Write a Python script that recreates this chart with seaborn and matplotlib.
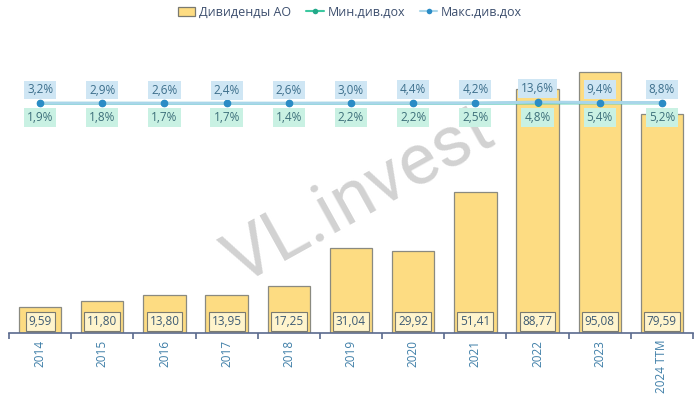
import matplotlib
matplotlib.use("Agg")
import matplotlib.pyplot as plt
import numpy as np
import pandas as pd
import seaborn as sns
from matplotlib.lines import Line2D
from matplotlib.patches import Patch

sns.set_theme(style="white")
plt.rcParams['font.family'] = ['Open Sans', 'DejaVu Sans']

years = ['2014', '2015', '2016', '2017', '2018', '2019', '2020',
         '2021', '2022', '2023', '2024 TTM']
dividends = [9.59, 11.80, 13.80, 13.95, 17.25, 31.04, 29.92,
             51.41, 88.77, 95.08, 79.59]
min_yield = [1.9, 1.8, 1.7, 1.7, 1.4, 2.2, 2.2, 2.5, 4.8, 5.4, 5.2]
max_yield = [3.2, 2.9, 2.6, 2.4, 2.6, 3.0, 4.4, 4.2, 13.6, 9.4, 8.8]

bar_col = '#fddc82'
max_col = '#a9d6ea'
max_dot = '#2b8cc6'
min_col = '#3cc8a0'
txt_col = '#3d5a73'

df = pd.DataFrame({'year': years, 'div': dividends})
pos = np.arange(len(years))


def fmt(v, nd):
    return f"{v:.{nd}f}".replace('.', ',')


fig = plt.figure(figsize=(7, 3.94), dpi=100)
ax = fig.add_axes([9 / 700, 61 / 394, 684 / 700, 293 / 394])

sns.barplot(data=df, x='year', y='div', color=bar_col, saturation=1,
            width=0.68, edgecolor='#8a8a80', linewidth=0.9, ax=ax)
ax.set_ylim(0, 106.7)
ax.set_xlim(-0.5, len(years) - 0.5)
ax.set_xlabel('')
ax.set_ylabel('')
ax.set_yticks([])
for s in ['top', 'right', 'left']:
    ax.spines[s].set_visible(False)
ax.spines['bottom'].set_color('#5a6a8e')
ax.spines['bottom'].set_linewidth(1.2)
ax.set_xticks(pos)
ax.set_xticklabels(years, rotation=90, color='#3f7fa8', fontsize=8.5)
ax.set_xticks(np.r_[pos - 0.5, pos[-1] + 0.5], minor=True)
ax.tick_params(axis='x', which='major', length=0, pad=5)
ax.tick_params(axis='x', which='minor', bottom=True, length=4,
               width=1.2, color='#5a6a8e')

# watermark, under the bars
ax.text(0.515, 0.5, 'VL.invest', transform=fig.transFigure, rotation=29,
        fontsize=52, fontweight='normal', color='#d2d2d2', ha='center',
        va='center', family=['Roboto', 'DejaVu Sans'], zorder=0.5)

for x, v in zip(pos, dividends):
    ax.text(x, 4.2, fmt(v, 2), ha='center', va='center', fontsize=8.5,
            color=txt_col,
            bbox=dict(boxstyle='square,pad=0.25', fc='#fff4cc',
                      ec='#7a7a70', lw=0.8))

ax2 = ax.twinx()
sns.lineplot(x=pos, y=min_yield, ax=ax2, color=min_col, linewidth=2,
             marker='o', markersize=5, markeredgewidth=0,
             markerfacecolor='#22a889')
sns.lineplot(x=pos, y=max_yield, ax=ax2, color=max_col, linewidth=2.2,
             marker='o', markersize=5.5, markeredgewidth=0,
             markerfacecolor=max_dot)
ax2.set_ylim(-2295, 635)
ax2.axis('off')

for x, lo, hi in zip(pos, min_yield, max_yield):
    ax2.annotate(fmt(hi, 1) + '%', (x, hi), xytext=(0, 9.5),
                 textcoords='offset points', ha='center', va='center',
                 fontsize=8.5, color='#3d6f8c',
                 bbox=dict(boxstyle='square,pad=0.25', fc='#cfe6f4',
                           ec='none'))
    ax2.annotate(fmt(lo, 1) + '%', (x, lo), xytext=(0, -10.5),
                 textcoords='offset points', ha='center', va='center',
                 fontsize=8.5, color='#3d6f7a',
                 bbox=dict(boxstyle='square,pad=0.25', fc='#c9f1e3',
                           ec='none'))

handles = [Patch(fc=bar_col, ec='#7a7a70', lw=0.9),
           Line2D([], [], color=min_col, marker='o', markersize=4,
                  markerfacecolor='#22a889', markeredgewidth=0, lw=1.5),
           Line2D([], [], color=max_col, marker='o', markersize=4,
                  markerfacecolor=max_dot, markeredgewidth=0, lw=1.5)]
leg = fig.legend(handles, ['Дивиденды АО', 'Мин.див.дох', 'Макс.див.дох'],
                 loc='center', bbox_to_anchor=(0.5, 1 - 12 / 394), ncol=3,
                 frameon=False, fontsize=9, handlelength=1.4,
                 handletextpad=0.3, columnspacing=1.2)
for t in leg.get_texts():
    t.set_color('#3d4f6e')

fig.savefig('out.png', dpi=100)
